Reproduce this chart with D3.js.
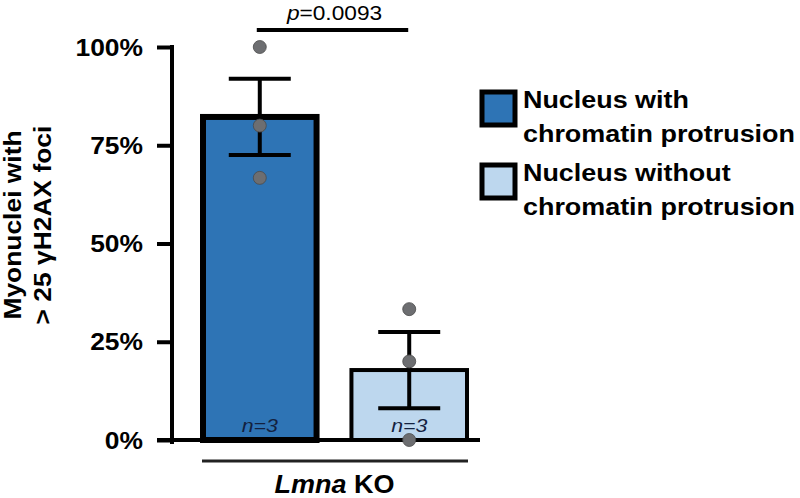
<!DOCTYPE html>
<html><head><meta charset="utf-8">
<script src="https://cdn.jsdelivr.net/npm/d3@7"></script>
<style>body{margin:0;background:#fff}svg{display:block}text{font-family:"Liberation Sans",Arial,sans-serif}</style>
</head><body><svg id="c" width="800" height="498"></svg>
<script>
const categories = ["Nucleus with chromatin protrusion", "Nucleus without chromatin protrusion"];
const means = [82.2, 17.8];
const sems = [9.7, 9.7];
const points = [[100, 80, 66.7], [33.3, 20, 0]];
const nLabels = ["3", "3"];
const yTicks = [0, 25, 50, 75, 100];
const pValue = "0.0093";
const groupLabel = ["Lmna", " KO"];
const yTitle = ["Myonuclei with", "> 25 \u03b3H2AX foci"];
const legendLines = [["Nucleus with", "chromatin protrusion"], ["Nucleus without", "chromatin protrusion"]];
const fills = ["#2e74b5", "#bdd7ee"];
const strokeW = [6, 4];

const svg = d3.select("#c");
const y = d3.scaleLinear().domain([0, 100]).range([440, 47]);
const x = d3.scaleBand().domain(categories).range([200, 469]).paddingInner(0.2).paddingOuter(0);

function stext(g, px, py, anchor, size, weight, parts, sx, fill) {
  const gg = g.append("g").attr("transform", `translate(${px},${py}) scale(${sx},1)`);
  const t = gg.append("text").attr("text-anchor", anchor).attr("font-size", size).attr("font-weight", weight).attr("fill", fill || "#000");
  parts.forEach(p => t.append("tspan").attr("font-style", p.i ? "italic" : "normal").text(p.t));
  return t;
}

// y axis
const axis = d3.axisLeft(y).tickValues(yTicks).tickSize(15).tickFormat(d => d + "%");
const ag = svg.append("g").attr("transform", "translate(172,0)").call(axis);
ag.select(".domain").remove();
ag.selectAll(".tick line").attr("stroke", "#000").attr("stroke-width", 4);
ag.selectAll(".tick text").remove();
svg.append("line").attr("x1", 172).attr("x2", 172).attr("y1", y(100) - 2).attr("y2", y(0) + 4).attr("stroke", "#000").attr("stroke-width", 4);
yTicks.forEach(v => stext(svg, 143, y(v) + 8.5, "end", 24, "bold", [{t: v + "%"}], 1.1));

// bars
categories.forEach((c, i) => {
  const sw = strokeW[i];
  svg.append("rect").attr("x", x(c) + sw / 2).attr("y", y(means[i]))
    .attr("width", x.bandwidth() - sw).attr("height", y(0) - y(means[i]))
    .attr("fill", fills[i]).attr("stroke", "#000").attr("stroke-width", sw);
});
// baseline
svg.append("line").attr("x1", 157).attr("x2", 480).attr("y1", y(0)).attr("y2", y(0)).attr("stroke", "#000").attr("stroke-width", 4);

// error bars
categories.forEach((c, i) => {
  const cx = x(c) + x.bandwidth() / 2;
  const hi = y(means[i] + sems[i]), lo = y(means[i] - sems[i]);
  svg.append("line").attr("x1", cx).attr("x2", cx).attr("y1", hi).attr("y2", lo).attr("stroke", "#000").attr("stroke-width", 4);
  [hi, lo].forEach(yy => svg.append("line").attr("x1", cx - 31).attr("x2", cx + 31).attr("y1", yy).attr("y2", yy).attr("stroke", "#000").attr("stroke-width", 4));
});

// n labels
categories.forEach((c, i) => {
  const cx = x(c) + x.bandwidth() / 2;
  stext(svg, cx, 432, "middle", 19, "normal", [{t: "n", i: true}, {t: "=" + nLabels[i], i: true}], 1.12, "#13213f");
});

// points
categories.forEach((c, i) => {
  const cx = x(c) + x.bandwidth() / 2;
  points[i].forEach(v => svg.append("circle").attr("cx", cx).attr("cy", y(v)).attr("r", 6.5)
    .attr("fill", "#6d6e71").attr("stroke", "#4a4a4a").attr("stroke-width", 0.8));
});

// significance
const c0 = x(categories[0]) + x.bandwidth() / 2, c1 = x(categories[1]) + x.bandwidth() / 2;
svg.append("line").attr("x1", c0 - 3).attr("x2", c1 - 1).attr("y1", 30).attr("y2", 30).attr("stroke", "#000").attr("stroke-width", 4);
stext(svg, (c0 + c1) / 2, 20, "middle", 21, "normal", [{t: "p", i: true}, {t: "=" + pValue}], 1.08);

// group line & label
svg.append("line").attr("x1", x(categories[0]) + 2).attr("x2", x(categories[1]) + x.bandwidth() - 1).attr("y1", 461).attr("y2", 461).attr("stroke", "#222").attr("stroke-width", 3);
stext(svg, (x(categories[0]) + x(categories[1]) + x.bandwidth()) / 2, 493, "middle", 25, "bold", [{t: groupLabel[0], i: true}, {t: groupLabel[1]}], 1.08);

// y title
const tg = svg.append("g").attr("transform", "translate(0,225) rotate(-90)");
yTitle.forEach((l, k) => stext(tg, 0, 21 + k * 30, "middle", 24, "bold", [{t: l}], 1.1));

// legend
legendLines.forEach((lines, i) => {
  const ly = 90 + i * 73;
  svg.append("rect").attr("x", 482).attr("y", ly + 2).attr("width", 33).attr("height", 33)
    .attr("fill", fills[i]).attr("stroke", "#000").attr("stroke-width", 5);
  lines.forEach((l, k) => stext(svg, 523, ly + 18 + k * 34, "start", 23, "bold", [{t: l}], 1.17));
});
</script></body></html>
